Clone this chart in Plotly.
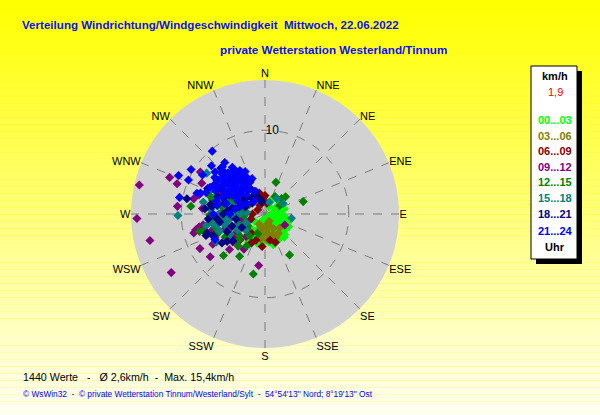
import plotly.graph_objects as go

W, H = 600, 415

# compass labels for the angular axis
compass = ["N", "NNE", "NE", "ENE", "E", "ESE", "SE", "SSE",
           "S", "SSW", "SW", "WSW", "W", "WNW", "NW", "NNW"]
compass_deg = [i * 22.5 for i in range(16)]

hour_labels = ["00...03", "03...06", "06...09", "09...12",
               "12...15", "15...18", "18...21", "21...24"]

# wind direction (deg) and speed (km/h) per 3-hour block
dir_00_03 = [85, 97, 25, 54, 133, 148, 183, 196, 207, 210, 120, 140, 160, 170, 150, 130, 110, 100,
             175, 190, 200, 165, 155, 145, 125, 115, 105, 180, 195, 205, 215, 140, 160, 135, 120,
             170, 185, 60, 75, 45, 150, 165, 130, 190, 100, 115, 225, 235, 90, 30,
             105, 112, 118, 126, 132, 138, 144, 152, 158, 164, 172, 178, 186, 192, 198, 204, 212,
             218, 142, 156, 168, 184, 128, 136, 148]
spd_00_03 = [1.8, 2.1, 1.8, 2.2, 2.2, 2.7, 3.3, 0.7, 4.0, 3.9, 1.5, 1.2, 2.0, 2.5, 3.4, 3.0, 2.6, 2.5,
             1.0, 2.2, 2.8, 3.8, 1.6, 2.0, 2.8, 1.1, 1.8, 2.9, 3.6, 2.0, 3.2, 3.6, 3.0, 0.9, 2.4,
             1.6, 1.3, 1.4, 2.4, 2.3, 0.5, 3.3, 1.9, 1.7, 1.2, 2.0, 2.4, 1.5, 0.8, 1.0,
             3.0, 2.3, 3.2, 1.6, 2.6, 2.2, 3.0, 2.4, 3.6, 1.8, 3.4, 2.1, 3.0, 2.6, 1.9, 3.4, 2.5,
             3.6, 1.7, 2.9, 2.1, 2.3, 2.4, 3.4, 1.4]

dir_03_06 = [134, 176, 150, 160, 170, 185, 195, 155, 165, 180, 145, 200, 190, 170, 150, 210, 175,
             160]
spd_03_06 = [2.4, 3.1, 2.0, 2.6, 1.8, 2.4, 1.6, 3.1, 1.2, 1.9, 2.8, 2.2, 3.0, 2.9, 1.0, 1.4, 2.2,
             1.5]

dir_06_09 = [224, 199, 352, 169, 340, 355, 10, 330, 215, 205, 240, 300, 250, 270, 345, 0, 185, 160]
spd_06_09 = [4.3, 3.3, 1.5, 3.2, 1.8, 2.0, 1.3, 1.2, 2.8, 3.8, 3.0, 1.0, 1.8, 1.5, 2.6, 2.2, 3.9, 3.6]

dir_09_12 = [283, 268, 257, 238, 291, 187, 242, 232, 275, 303, 255, 211, 289, 282, 259, 286, 296,
             119, 229, 260, 270, 280, 250, 245, 265, 290, 300, 310, 255, 235, 275, 240, 225, 220,
             260, 285, 257, 236, 262, 272, 282, 294, 306, 248, 238, 228, 252, 266, 278, 288, 246,
             232]
spd_09_12 = [15.4, 15.3, 14.1, 13.2, 12.2, 6.2, 8.8, 8.3, 10.5, 9.2, 8.8, 4.9, 11.1, 8.7, 8.0, 8.2,
             8.4, 2.7, 5.1, 6.0, 5.5, 6.5, 5.0, 6.6, 4.0, 5.0, 4.5, 3.5, 3.0, 4.0, 7.5, 7.2, 6.0,
             3.5, 7.5, 4.0, 8.5, 4.5, 5.2, 4.2, 5.6, 6.0, 5.2, 4.4, 5.4, 4.6, 6.8, 6.6, 3.2, 3.0,
             2.4, 2.8]

dir_12_15 = [19, 50, 47, 72, 149, 191, 211, 225, 276, 255, 269, 255, 288, 260, 270, 250, 240, 280,
             265, 290, 300, 230, 245, 275, 255, 285, 310, 220, 265, 240, 60, 30,
             235, 250, 258, 268, 278, 282, 292, 296, 305, 215, 225, 262, 248, 272, 300, 200, 210]
spd_12_15 = [4.0, 3.2, 2.7, 4.8, 5.7, 7.3, 5.9, 7.0, 8.9, 7.6, 6.6, 8.1, 6.9, 5.0, 4.5, 4.2, 5.5,
             5.2, 6.0, 4.0, 5.8, 4.0, 3.2, 3.5, 6.2, 6.5, 6.0, 5.0, 2.5, 2.8, 2.0, 2.4,
             2.5, 3.5, 4.8, 3.8, 2.8, 6.0, 4.6, 3.2, 4.8, 3.2, 4.4, 5.6, 6.0, 5.2, 2.2, 2.5, 4.4]

dir_15_18 = [305, 269, 259, 240, 37, 99, 257, 281, 300, 290, 280, 310, 320, 270, 260, 250, 295,
             285, 275, 315, 265, 330, 240, 305, 300, 20, 60, 250,
             245, 255, 265, 275, 285, 290, 300, 310, 230, 270, 280, 260, 320, 240]
spd_15_18 = [8.5, 10.4, 7.1, 6.7, 2.3, 3.2, 6.0, 7.5, 6.5, 5.5, 4.5, 5.0, 4.0, 5.5, 4.5, 5.8, 7.0,
             3.0, 6.5, 6.5, 3.5, 2.5, 4.8, 4.0, 3.0, 1.5, 2.5, 3.5,
             2.5, 5.0, 4.8, 2.2, 4.2, 6.2, 5.0, 6.0, 3.0, 3.0, 5.8, 6.4, 5.2, 3.8]

dir_18_21 = [316, 294, 281, 250, 247, 234, 300, 252, 236, 278, 334, 338, 310, 320, 300, 290, 285,
             305, 315, 325, 295, 280, 270, 260, 330, 340, 310, 300, 265, 245, 275, 320,
             260, 275, 290, 310, 250, 265, 295, 305, 280, 240, 230, 285, 315, 345]
spd_18_21 = [7.6, 7.5, 9.5, 7.5, 6.7, 5.6, 6.9, 7.3, 6.2, 6.4, 2.7, 2.9, 5.0, 6.0, 4.5, 6.0, 5.0,
             7.0, 4.0, 4.5, 3.5, 4.0, 5.0, 5.5, 3.5, 2.0, 3.0, 6.0, 6.8, 5.0, 7.2, 2.5,
             3.5, 4.5, 2.5, 2.0, 4.2, 5.8, 5.2, 3.0, 6.6, 3.2, 5.0, 3.2, 5.4, 1.5]

dir_21_24 = [320, 301, 294, 294, 281, 287, 326, 325, 318, 296, 288, 311, 243, 310, 315, 320, 305,
             300, 330, 335, 325, 315, 305, 310, 320, 300, 295, 290, 310, 330, 318, 325, 308, 298,
             285, 312, 322, 335, 340, 302, 292, 280, 270, 306, 316, 328, 296,
             300, 305, 310, 315, 320, 325, 330, 335, 302, 308, 313, 318, 323, 328, 333, 304, 309,
             314, 319, 324, 329, 306, 311, 316, 321, 326, 320, 300, 290, 280, 270, 285]
spd_21_24 = [9.8, 10.3, 11.3, 10.0, 10.4, 8.5, 6.1, 5.2, 7.6, 7.3, 8.1, 5.5, 6.7, 6.5, 6.0, 5.5,
             6.0, 7.0, 5.0, 4.2, 6.8, 7.2, 5.0, 4.5, 4.0, 5.5, 6.5, 7.5, 7.8, 6.0, 5.0, 3.5, 3.8,
             4.8, 6.0, 8.6, 7.8, 3.0, 4.5, 8.8, 5.5, 5.8, 6.2, 6.9, 3.2, 4.3, 3.6,
             4.0, 4.6, 5.3, 5.9, 6.4, 5.7, 4.4, 5.6, 6.2, 6.7, 7.0, 6.6, 5.2, 3.9, 5.0, 5.1, 5.8,
             4.9, 4.2, 6.0, 5.4, 7.4, 6.2, 6.9, 5.1, 4.7, 2.0, 2.5, 3.0, 3.6, 4.2, 4.8]

dirs = [dir_00_03, dir_03_06, dir_06_09, dir_09_12, dir_12_15, dir_15_18, dir_18_21, dir_21_24]
spds = [spd_00_03, spd_03_06, spd_06_09, spd_09_12, spd_12_15, spd_15_18, spd_18_21, spd_21_24]
colors = ["#00FF00", "#808000", "#800000", "#800080", "#008000", "#008080", "#000080", "#0000FF"]

n_values = 1440
mean_speed = "2,6"
max_speed = "15,4"
current_speed = "1,9"

fig = go.Figure()
for lab, d, s, c in zip(hour_labels, dirs, spds, colors):
    fig.add_trace(go.Scatterpolar(r=s, theta=d, mode="markers", name=lab,
                                  marker=dict(symbol="diamond", size=7, color=c),
                                  showlegend=False))


def px(x):
    return x / W


def py(y):
    return 1 - y / H


# yellow background gradient
shapes = []
bands = 60
for i in range(bands):
    b = int(round(240 * i / (bands - 1)))
    shapes.append(dict(type="rect", xref="paper", yref="paper", layer="below",
                       x0=0, x1=1, y0=py(H * (i + 1) / bands), y1=py(H * i / bands),
                       fillcolor=f"rgb(255,255,{b})", line=dict(width=0)))

# legend box with shadow
shapes.append(dict(type="rect", xref="paper", yref="paper", x0=px(536), x1=px(582),
                   y0=py(264), y1=py(71), fillcolor="black", line=dict(width=0)))
shapes.append(dict(type="rect", xref="paper", yref="paper", x0=px(531), x1=px(577),
                   y0=py(259), y1=py(66), fillcolor="white", line=dict(color="black", width=1)))

ann = []
font_t = "Liberation Sans, Arial"
ann.append(dict(x=px(20), y=py(25), xanchor="left",
                text="<b>Verteilung Windrichtung/Windgeschwindigkeit  Mittwoch, 22.06.2022</b>",
                font=dict(family=font_t, size=11.6, color="#1010F0")))
ann.append(dict(x=px(218), y=py(50), xanchor="left",
                text="<b>private Wetterstation Westerland/Tinnum</b>",
                font=dict(family=font_t, size=11.7, color="#1010F0")))
ann.append(dict(x=px(21), y=py(377), xanchor="left",
                text=f"{n_values} Werte   -   Ø {mean_speed}km/h  -  Max. {max_speed}km/h",
                font=dict(family=font_t, size=10.7, color="black")))
ann.append(dict(x=px(21), y=py(394), xanchor="left",
                text="© WsWin32  -  © private Wetterstation Tinnum/Westerland/Sylt  -  "
                     "54°54'13'' Nord; 8°19'13'' Ost",
                font=dict(family=font_t, size=8.3, color="#0000FF")))

# legend text
ann.append(dict(x=px(555), y=py(76), text="<b>km/h</b>",
                font=dict(family=font_t, size=11, color="black")))
ann.append(dict(x=px(555), y=py(92), text=current_speed,
                font=dict(family=font_t, size=11, color="red")))
leg_y = [120, 135.5, 151, 167, 182.5, 198, 214, 230.5]
for lab, c, yy in zip(hour_labels, colors, leg_y):
    ann.append(dict(x=px(555), y=py(yy), text=f"<b>{lab}</b>",
                    font=dict(family=font_t, size=11, color=c)))
ann.append(dict(x=px(555), y=py(247), text="<b>Uhr</b>",
                font=dict(family=font_t, size=11, color="black")))
for a in ann:
    a.setdefault("xanchor", "center")
    a.update(xref="paper", yref="paper", yanchor="middle", showarrow=False)

cx, cy, rad = 265, 214, 134
fig.update_layout(
    width=W, height=H, autosize=False,
    margin=dict(l=0, r=0, t=0, b=0),
    paper_bgcolor="#FFFF00",
    shapes=shapes,
    annotations=ann,
    polar=dict(
        domain=dict(x=[px(cx - rad), px(cx + rad)], y=[py(cy + rad), py(cy - rad)]),
        bgcolor="#D2D2D2",
        angularaxis=dict(rotation=90, direction="clockwise", tickmode="array",
                         tickvals=compass_deg, ticktext=compass, showline=False,
                         ticks="", gridcolor="#7A7A7A", griddash="dash", gridwidth=1,
                         tickfont=dict(family=font_t, size=11, color="black")),
        radialaxis=dict(range=[0, 16], tickmode="array", tickvals=[10], ticktext=["10"],
                        angle=90, tickangle=90, showline=False, ticks="", gridcolor="#7A7A7A",
                        griddash="dash", gridwidth=1,
                        tickfont=dict(family=font_t, size=12, color="black")),
    ),
)

fig.write_html("out.html", config={"displayModeBar": False},
               post_script="document.body.style.margin = '0';")
